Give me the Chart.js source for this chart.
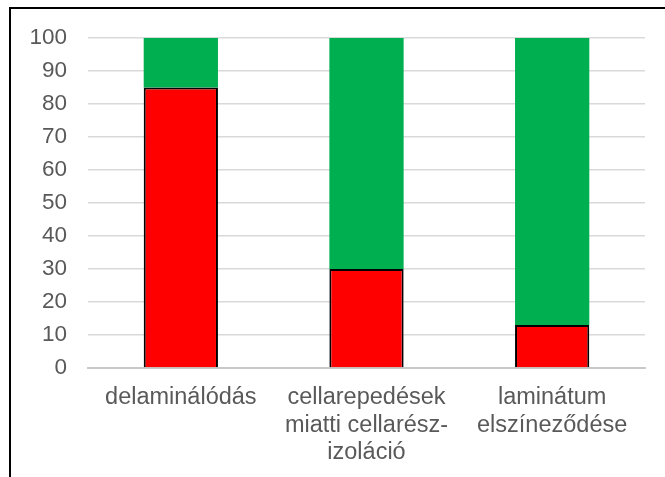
<!DOCTYPE html>
<html>
<head>
<meta charset="utf-8">
<script src="https://cdn.jsdelivr.net/npm/chart.js@4"></script>
<style>
  html, body { margin: 0; padding: 0; background: #fff; }
  canvas { display: block; }
</style>
</head>
<body>
<canvas id="c" width="665" height="477"></canvas>
<script>
// Defect categories (multi-line labels)
const categories = [
  ['delaminálódás'],
  ['cellarepedések', 'miatti cellarész-', 'izoláció'],
  ['laminátum', 'elszíneződése']
];
// Share of affected modules (%)
const affected = [85, 30, 13];
// Remaining share (%)
const unaffected = [15, 70, 87];
// Value axis ticks
const yMin = 0, yMax = 100, yStep = 10;

const textColor = '#595959';
const fontFamily = '"Liberation Sans", Arial, sans-serif';

// Thin black frame along the top and left edges
const framePlugin = {
  id: 'frame',
  afterDraw(chart) {
    const ctx = chart.ctx;
    ctx.save();
    ctx.fillStyle = '#000';
    ctx.fillRect(9, 7, 665 - 9, 2);
    ctx.fillRect(9, 7, 2, 477 - 7);
    ctx.restore();
  }
};

new Chart(document.getElementById('c'), {
  type: 'bar',
  data: {
    labels: categories,
    datasets: [
      {
        label: 'érintett',
        data: affected,
        backgroundColor: '#FF0000',
        borderColor: '#000000',
        borderWidth: 2,
        borderSkipped: 'start'
      },
      {
        label: 'nem érintett',
        data: unaffected,
        backgroundColor: '#00B050',
        borderWidth: 0
      }
    ]
  },
  options: {
    responsive: false,
    animation: false,
    layout: { padding: { top: 38, right: 20, bottom: 0, left: 0 } },
    plugins: {
      legend: { display: false },
      tooltip: { enabled: false }
    },
    datasets: {
      bar: { categoryPercentage: 1.0, barPercentage: 0.4 }
    },
    scales: {
      x: {
        stacked: true,
        z: 1,
        grid: { display: false, drawTicks: false },
        border: { display: true, color: '#C8C8C8', width: 2 },
        ticks: {
          color: textColor,
          padding: 16,
          maxRotation: 0,
          autoSkip: false,
          font: { family: fontFamily, size: 23.5, lineHeight: 1.17 }
        },
        afterFit(scale) { scale.height = 477 - 368; }
      },
      y: {
        stacked: true,
        min: yMin,
        max: yMax,
        grid: { color: '#D9D9D9', lineWidth: 1.5, drawTicks: false },
        border: { display: false },
        ticks: {
          stepSize: yStep,
          color: textColor,
          padding: 21,
          font: { family: fontFamily, size: 22.5 }
        },
        afterFit(scale) { scale.width = 88; }
      }
    }
  },
  plugins: [framePlugin]
});
</script>
</body>
</html>
